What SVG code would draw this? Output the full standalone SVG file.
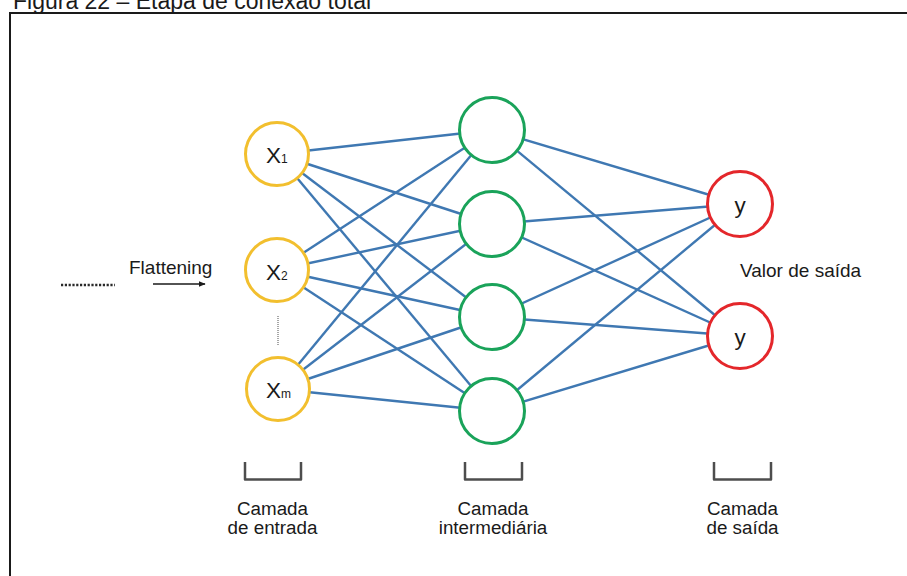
<svg xmlns="http://www.w3.org/2000/svg" width="907" height="576" viewBox="0 0 907 576">
  <style>
    text { font-family: "Liberation Sans", Arial, sans-serif; fill: #1a1a1a; }
    .lbl { font-size: 19px; }
    .cap { font-size: 18.8px; text-anchor: middle; }
    .node-in { fill: #ffffff; stroke: #f2bf2e; stroke-width: 3; }
    .node-hid { fill: #ffffff; stroke: #1aa35a; stroke-width: 3; }
    .node-out { fill: #ffffff; stroke: #e4272b; stroke-width: 3; }
    .edge { stroke: #3f78b2; stroke-width: 2.4; fill: none; }
    .var { font-size: 22.5px; }
    .sub { font-size: 12px; }
    .brace { fill: none; stroke: #4d4d4d; stroke-width: 2.5; stroke-linejoin: round; }
  </style>
  <defs>
    <marker id="arrowhead" viewBox="0 0 10 10" refX="9" refY="5" markerWidth="7" markerHeight="7" markerUnits="userSpaceOnUse" orient="auto">
      <path d="M0,1 L10,5 L0,9 z" fill="#1a1a1a"/>
    </marker>
  </defs>

  <rect width="907" height="576" fill="#ffffff"/>

  <!-- figure caption and frame -->
  <text x="13" y="9" font-size="23">Figura 22 – Etapa de conexão total</text>
  <rect x="10" y="13" width="920" height="600" fill="none" stroke="#1a1a1a" stroke-width="2"/>

  <!-- weights -->
  <g id="connectors">
    <!-- input to hidden -->
    <line class="edge" x1="277" y1="154" x2="492" y2="130"/>
    <line class="edge" x1="277" y1="154" x2="492" y2="224"/>
    <line class="edge" x1="277" y1="154" x2="492" y2="317"/>
    <line class="edge" x1="277" y1="154" x2="492" y2="411"/>
    <line class="edge" x1="277" y1="270" x2="492" y2="130"/>
    <line class="edge" x1="277" y1="270" x2="492" y2="224"/>
    <line class="edge" x1="277" y1="270" x2="492" y2="317"/>
    <line class="edge" x1="277" y1="270" x2="492" y2="411"/>
    <line class="edge" x1="278" y1="389" x2="492" y2="130"/>
    <line class="edge" x1="278" y1="389" x2="492" y2="224"/>
    <line class="edge" x1="278" y1="389" x2="492" y2="317"/>
    <line class="edge" x1="278" y1="389" x2="492" y2="411"/>
    <!-- hidden to output -->
    <line class="edge" x1="492" y1="130" x2="740" y2="204"/>
    <line class="edge" x1="492" y1="130" x2="740" y2="336"/>
    <line class="edge" x1="492" y1="224" x2="740" y2="204"/>
    <line class="edge" x1="492" y1="224" x2="740" y2="336"/>
    <line class="edge" x1="492" y1="317" x2="740" y2="204"/>
    <line class="edge" x1="492" y1="317" x2="740" y2="336"/>
    <line class="edge" x1="492" y1="411" x2="740" y2="204"/>
    <line class="edge" x1="492" y1="411" x2="740" y2="336"/>
  </g>

  <!-- flattening step -->
  <g id="flattening">
    <line x1="61" y1="285" x2="115" y2="285" stroke="#2a2a2a" stroke-width="2.5" stroke-dasharray="2.2 1.6"/>
    <text class="lbl" x="129" y="274">Flattening</text>
    <line x1="153" y1="284" x2="205" y2="284" stroke="#1a1a1a" stroke-width="1.5" marker-end="url(#arrowhead)"/>
  </g>

  <!-- input layer -->
  <g id="input-x1">
    <circle class="node-in" cx="277" cy="154" r="31.5"/>
    <text class="var" x="266" y="163">X<tspan class="sub">1</tspan></text>
  </g>
  <g id="input-x2">
    <circle class="node-in" cx="277" cy="270" r="31.5"/>
    <text class="var" x="266" y="280">X<tspan class="sub">2</tspan></text>
  </g>
  <line x1="278" y1="316" x2="278" y2="345" stroke="#8a8a8a" stroke-width="1.5" stroke-dasharray="1 1"/>
  <g id="input-xm">
    <circle class="node-in" cx="278" cy="389" r="31.5"/>
    <text class="var" x="266" y="398">X<tspan class="sub">m</tspan></text>
  </g>

  <!-- hidden layer -->
  <g id="hidden-1"><circle class="node-hid" cx="492" cy="130" r="32.5"/></g>
  <g id="hidden-2"><circle class="node-hid" cx="492" cy="224" r="32.5"/></g>
  <g id="hidden-3"><circle class="node-hid" cx="492" cy="317" r="32.5"/></g>
  <g id="hidden-4"><circle class="node-hid" cx="492" cy="411" r="32.5"/></g>

  <!-- output layer -->
  <g id="output-1">
    <circle class="node-out" cx="740" cy="204" r="32.5"/>
    <text class="var" x="740" y="213" text-anchor="middle">y</text>
  </g>
  <g id="output-2">
    <circle class="node-out" cx="740" cy="336" r="32.5"/>
    <text class="var" x="740" y="345" text-anchor="middle">y</text>
  </g>
  <text class="lbl" x="740" y="277">Valor de saída</text>

  <!-- layer captions -->
  <g id="caption-input">
    <path class="brace" d="M245,462 V479.5 H301 V462"/>
    <text class="cap" x="272.5" y="515">Camada</text>
    <text class="cap" x="272.5" y="534">de entrada</text>
  </g>
  <g id="caption-hidden">
    <path class="brace" d="M465,462 V479.5 H522 V462"/>
    <text class="cap" x="493" y="515">Camada</text>
    <text class="cap" x="493" y="534">intermediária</text>
  </g>
  <g id="caption-output">
    <path class="brace" d="M714,462 V479.5 H771 V462"/>
    <text class="cap" x="742.5" y="515">Camada</text>
    <text class="cap" x="742.5" y="534">de saída</text>
  </g>
</svg>
